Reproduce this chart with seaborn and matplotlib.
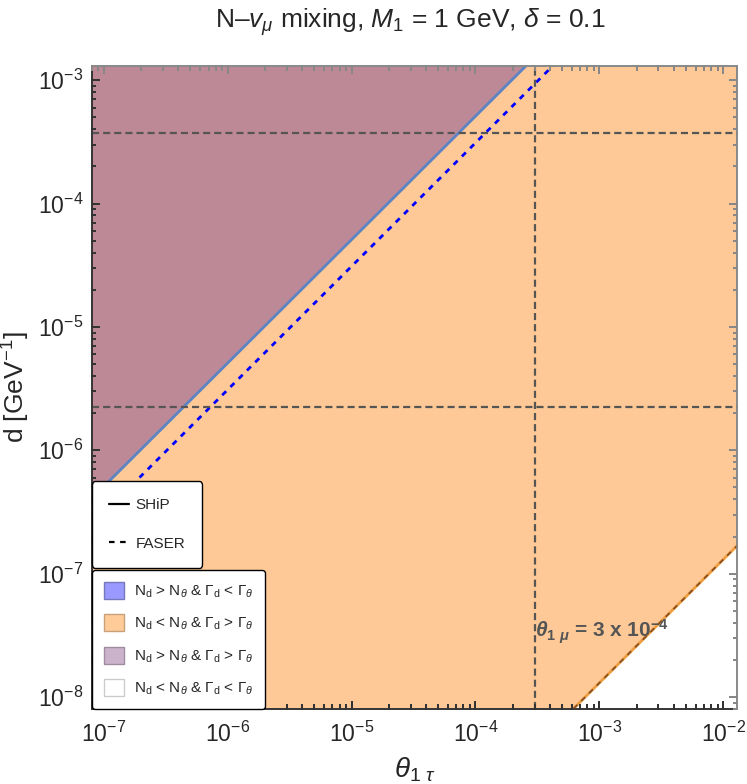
import matplotlib
matplotlib.use('Agg')
import matplotlib.pyplot as plt
from matplotlib.lines import Line2D
from matplotlib.patches import Patch
from matplotlib.ticker import LogLocator, NullFormatter
import seaborn as sns

# axis ranges
theta_range = [8e-8, 1.3e-2]
d_range = [8e-9, 1.3e-3]

# boundary lines (straight in log-log), values read at both ends
line_theta = [1e-8, 1e-1]
ship_d = [5.1e-8, 5.1e-1]
faser_d = [3.1e-8, 3.1e-1]
gamma_d = [1.3e-13, 1.3e-6]

# reference dashed markers
d_marks = [3.7e-4, 2.25e-6]
theta_mark = 3e-4

# colours
purple = '#BE8996'
orange = '#FEC996'

sns.set_style('ticks')
plt.rcParams['font.family'] = ['Liberation Sans', 'DejaVu Sans']
plt.rcParams['mathtext.fontset'] = 'custom'
plt.rcParams['mathtext.rm'] = 'Liberation Sans'
plt.rcParams['mathtext.it'] = 'Liberation Sans:italic'
plt.rcParams['mathtext.bf'] = 'Liberation Sans:bold'
plt.rcParams['mathtext.bfit'] = 'Liberation Sans:italic:bold'

fig = plt.figure(figsize=(7.47, 7.84), dpi=100)
ax = fig.add_axes([0.123, 0.0957, 0.864, 0.820])
ax.set_xscale('log')
ax.set_yscale('log')

# regions
ax.fill_between(line_theta, gamma_d, ship_d, color=orange, lw=0, zorder=1)
ax.fill_between(line_theta, ship_d, [1, 1], color=purple, lw=0, zorder=1)

# lines
sns.lineplot(x=line_theta, y=ship_d, ax=ax, color='#5B84C4', lw=2, zorder=3)
sns.lineplot(x=line_theta, y=faser_d, ax=ax, color='#0000FF', lw=2,
             linestyle=(0, (2, 2.2)), zorder=3)
sns.lineplot(x=line_theta, y=gamma_d, ax=ax, color='#EE9E3E', lw=2, zorder=3)
sns.lineplot(x=line_theta, y=gamma_d, ax=ax, color='#8B4F22', lw=1.3,
             linestyle=(0, (3, 3)), zorder=3)

for dm in d_marks:
    ax.axhline(dm, color='#555555', lw=1.6, linestyle=(0, (3.2, 1.8)), zorder=4)
ax.axvline(theta_mark, color='#555555', lw=1.6, linestyle=(0, (3.2, 1.8)), zorder=4)

ax.text(theta_mark * 1.01, 10 ** -7.47,
        r'$\mathbfit{\theta}_{\mathbf{1}\ \mathbfit{\mu}}$ = 3 x 10$^{\mathbf{-4}}$',
        fontsize=15, fontweight='bold', color='#555555', va='center', ha='left', zorder=5)

ax.set_xlim(*theta_range)
ax.set_ylim(*d_range)

# ticks: labels from the axis, marks drawn inward on all four sides
for axis in (ax.xaxis, ax.yaxis):
    axis.set_major_locator(LogLocator(base=10, numticks=20))
    axis.set_minor_locator(LogLocator(base=10, subs=range(2, 10), numticks=20))
    axis.set_minor_formatter(NullFormatter())
ax.tick_params(which='both', length=0, labelsize=16.5)
ax.tick_params(axis='x', which='major', pad=9)
ax.tick_params(axis='y', which='major', pad=6)


def comb(locs_maj, locs_min, lo, hi, base, sign, frac_maj, frac_min):
    # one continuous path along an edge, stepping in at every tick
    pts = sorted([(v, frac_maj) for v in locs_maj if lo <= v <= hi] +
                 [(v, frac_min) for v in locs_min if lo <= v <= hi])
    xs, ys = [lo], [base]
    for v, f in pts:
        xs += [v, v, v]
        ys += [base, base + sign * f, base]
    xs.append(hi)
    ys.append(base)
    return xs, ys


bb = ax.get_window_extent()
fy_maj, fy_min = 8 / bb.height, 4.5 / bb.height
fx_maj, fx_min = 8 / bb.width, 4.5 / bb.width
xlo, xhi = theta_range
ylo, yhi = d_range
xmaj, xmin = ax.xaxis.get_majorticklocs(), ax.xaxis.get_minorticklocs()
ymaj, ymin = ax.yaxis.get_majorticklocs(), ax.yaxis.get_minorticklocs()
for base, sign, col in [(0, 1, '#333333'), (1, -1, '#888888')]:
    xs, ys = comb(xmaj, xmin, xlo, xhi, base, sign, fy_maj, fy_min)
    ax.plot(xs, ys, color=col, lw=1.1, transform=ax.get_xaxis_transform(),
            clip_on=False, zorder=6, solid_joinstyle='miter')
    vs, us = comb(ymaj, ymin, ylo, yhi, base, sign, fx_maj, fx_min)
    ax.plot(us, vs, color=col, lw=1.1, transform=ax.get_yaxis_transform(),
            clip_on=False, zorder=6, solid_joinstyle='miter')

ax.set_xlim(*theta_range)
ax.set_ylim(*d_range)

for s in ['left', 'bottom']:
    ax.spines[s].set_color('#333333')
    ax.spines[s].set_linewidth(1.2)
for s in ['top', 'right']:
    ax.spines[s].set_color('#888888')
    ax.spines[s].set_linewidth(1.2)

ax.set_xlabel(r'$\theta_{1\ \tau}$', fontsize=20, labelpad=6)
ax.set_ylabel(r'd [GeV$^{-1}$]', fontsize=19, labelpad=4)
fig.text(0.549, 0.992, r'N–$v_\mu$ mixing, $M_1$ = 1 GeV, $\delta$ = 0.1',
         fontsize=19, ha='center', va='top')

# legends
line_handles = [Line2D([], [], color='black', lw=1.6, label='SHiP'),
                Line2D([], [], color='black', lw=1.6, linestyle=(0, (2.5, 2.5)), label='FASER')]
leg1 = ax.legend(handles=line_handles, loc='lower left', bbox_to_anchor=(0.0, 0.22),
                 borderaxespad=0, fontsize=11, frameon=True, fancybox=True,
                 edgecolor='black', framealpha=1, labelspacing=1.6, borderpad=1.1,
                 handlelength=1.3, handletextpad=0.45)
leg1.get_frame().set_linewidth(1.0)
leg1.set_zorder(10)
ax.add_artist(leg1)

region_handles = [
    Patch(facecolor='#9999FF', edgecolor='#7777BB',
          label=r'N$_\mathrm{d}$ > N$_\theta$ & Γ$_\mathrm{d}$ < Γ$_\theta$'),
    Patch(facecolor='#FFCC99', edgecolor='#C9A07A',
          label=r'N$_\mathrm{d}$ < N$_\theta$ & Γ$_\mathrm{d}$ > Γ$_\theta$'),
    Patch(facecolor='#CCB3CC', edgecolor='#9F8C9F',
          label=r'N$_\mathrm{d}$ > N$_\theta$ & Γ$_\mathrm{d}$ > Γ$_\theta$'),
    Patch(facecolor='white', edgecolor='#CCCCCC',
          label=r'N$_\mathrm{d}$ < N$_\theta$ & Γ$_\mathrm{d}$ < Γ$_\theta$'),
]
leg2 = ax.legend(handles=region_handles, loc='lower left', bbox_to_anchor=(0.0, 0.0),
                 borderaxespad=0, fontsize=11, frameon=True, fancybox=True,
                 edgecolor='black', framealpha=1, labelspacing=0.95, borderpad=0.78,
                 handlelength=1.35, handleheight=1.3, handletextpad=0.6)
leg2.get_frame().set_linewidth(1.0)
leg2.set_zorder(10)

fig.savefig('out.png', dpi=100)
